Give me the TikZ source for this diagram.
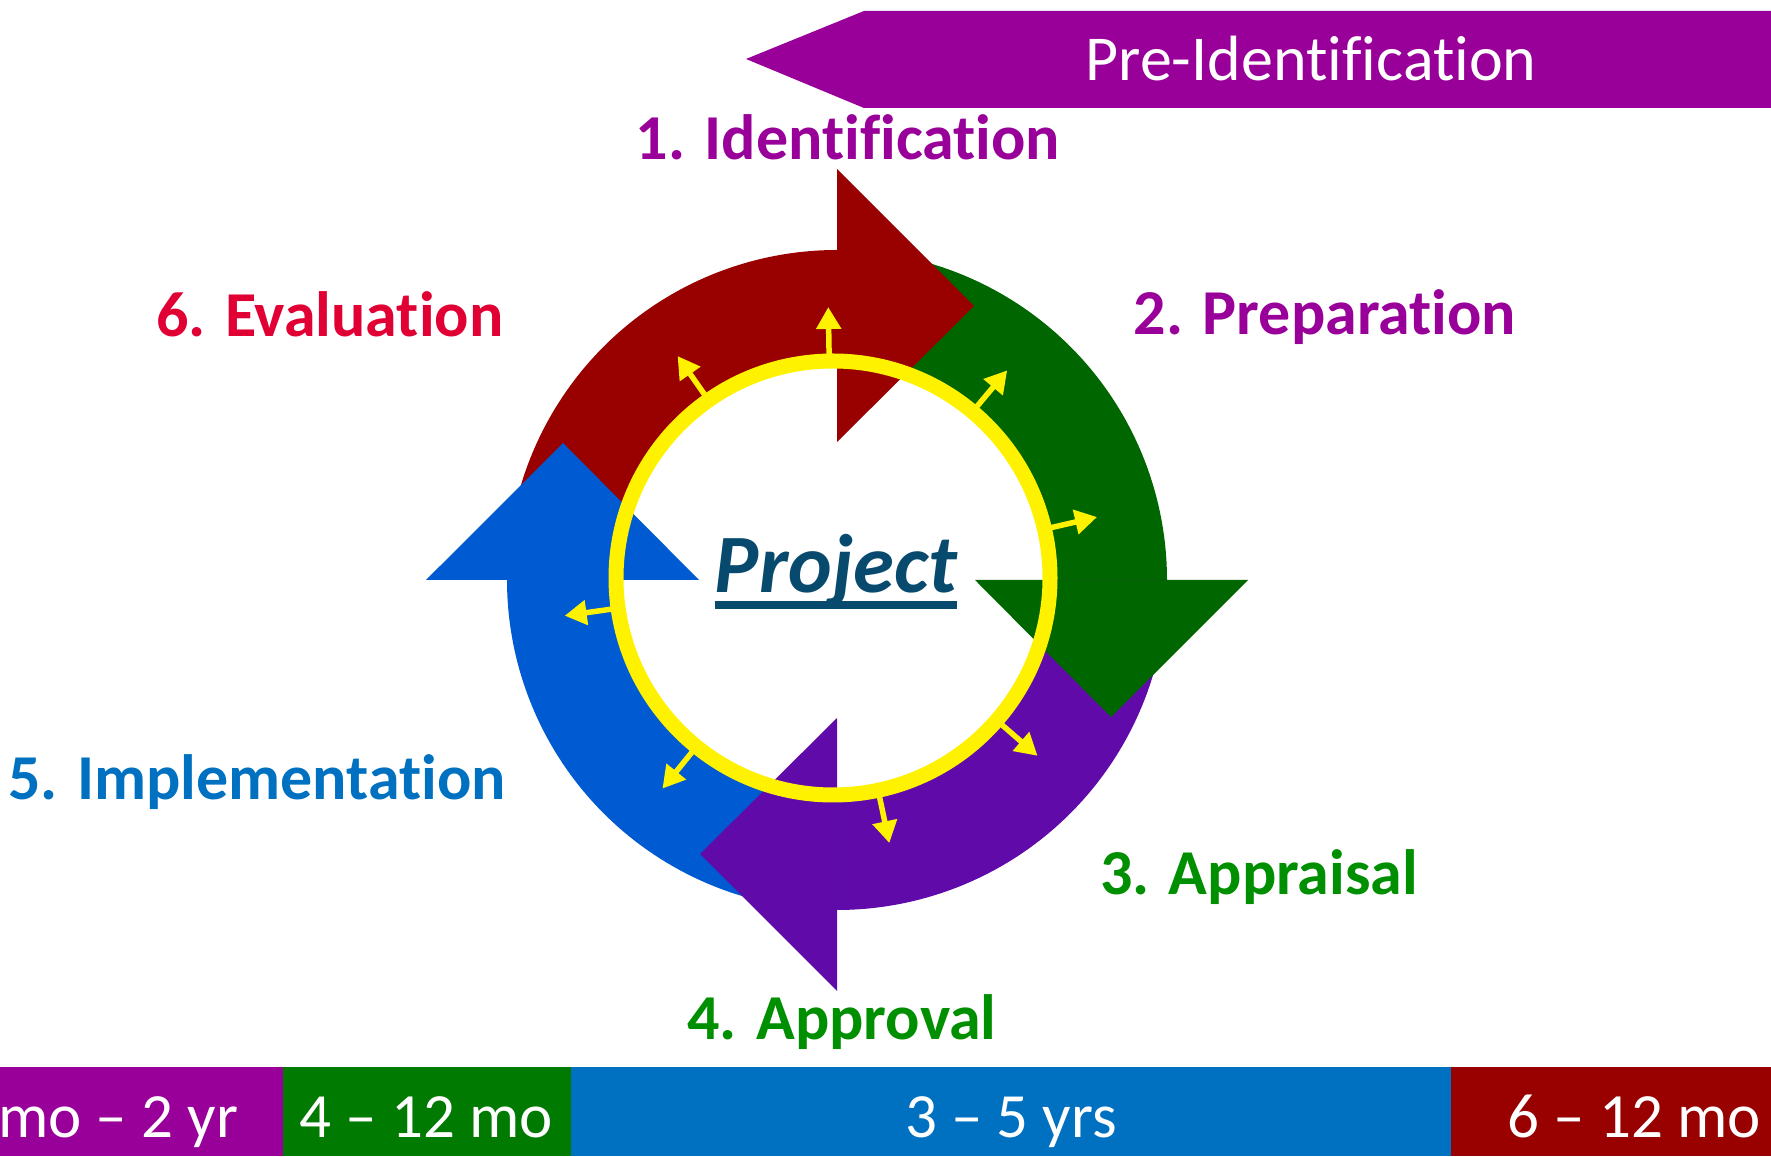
\documentclass[tikz,border=0pt]{standalone}
\usepackage{fontspec}
\setmainfont{Carlito}[Ligatures={TeX,NoCommon}]
\usetikzlibrary{arrows.meta}

\definecolor{prepurple}{HTML}{990099}
\definecolor{evalred}{HTML}{E00034}
\definecolor{implblue}{HTML}{0070C0}
\definecolor{apprgreen}{HTML}{008F00}
\definecolor{bargreen}{HTML}{007A00}
\definecolor{barred}{HTML}{990000}
\definecolor{ringred}{HTML}{990000}
\definecolor{ringgreen}{HTML}{006600}
\definecolor{ringpurple}{HTML}{600AAA}
\definecolor{ringblue}{HTML}{005AD2}
\definecolor{projblue}{HTML}{074A6D}

\tikzset{
  stage/.style={font=\bfseries\fontsize{64}{70}\selectfont, inner sep=0pt, anchor=base},
  span/.style={font=\fontsize{63}{70}\selectfont, text=white, inner sep=0pt, anchor=base},
  spark/.style={yellow, line width=5.5pt, -{Triangle[width=24pt,length=22pt]}},
}

\begin{document}
\begin{tikzpicture}[x=1pt, y=1pt]
  \useasboundingbox (0,0) rectangle (1771,1156);

  %% Pre-identification banner at the top
  \fill[prepurple] (746,1097) -- (864,1145) -- (1771,1145)
  -- (1771,1048) -- (864,1048) -- cycle;
  \node[span, font=\fontsize{64}{70}\selectfont] (preid) at (1311,1075)
  {Pre-Identification};

  %% Time bar at the bottom
  \fill[prepurple] (0,0) rectangle (283,89);
  \fill[bargreen] (283,0) rectangle (571,89);
  \fill[implblue] (571,0) rectangle (1451,89);
  \fill[barred] (1451,0) rectangle (1771,89);
  \node[span, anchor=base west] (tident) at (-2,19) {mo – 2 yr};
  \node[span] (tprep) at (426,19) {4 – 12 mo};
  \node[span] (timpl) at (1011,19) {3 – 5 yrs};
  \node[span] (teval) at (1634,19) {6 – 12 mo};

  %% The cycle: bodies first, then the heads on top
  \coordinate (hub) at (837,576);
  \begin{scope}[shift={(hub)}]
    \foreach \a/\col in {90/ringred, 0/ringgreen, -90/ringpurple, 180/ringblue}
      \fill[\col] (\a+90:330) arc[start angle=\a+90, end angle=\a-1, radius=330]
      -- (\a-1:217) arc[start angle=\a-1, end angle=\a+90, radius=217] -- cycle;
    \foreach \a/\col in {90/ringred, 0/ringgreen, -90/ringpurple, 180/ringblue}
      \fill[\col] (\a:138) -- (\a:411) -- (\a-26.565:306.35) -- cycle;
  \end{scope}

  %% The yellow ring and its little arrows
  \coordinate (halo) at (833,578);
  \draw[yellow, line width=15pt] (halo) circle[radius=217];
  \foreach \b in {91,125,50,13,-41,-78,-129,-172}
    \draw[spark] ([shift={(\b:224)}]halo) -- ([shift={(\b:271)}]halo);

  \node[font=\bfseries\itshape\fontsize{83}{90}\selectfont, text=projblue,
  inner sep=0pt, anchor=base] (proj) at (836,563) {Project};
  \draw[projblue, line width=8pt] ([yshift=-12pt]proj.base west)
  -- ([yshift=-12pt]proj.base east);

  %% Stage labels
  \node[stage, text=prepurple] (ident) at (848,996) {1. Identification};
  \node[stage, text=prepurple] (prep) at (1325,821) {2. Preparation};
  \node[stage, text=apprgreen] (appr) at (1259,261) {3. Appraisal};
  \node[stage, text=apprgreen] (apprv) at (842,116) {4. Approval};
  \node[stage, text=implblue] (impl) at (257,356) {5. Implementation};
  \node[stage, text=evalred] (eval) at (330,819) {6. Evaluation};

\end{tikzpicture}
\end{document}
